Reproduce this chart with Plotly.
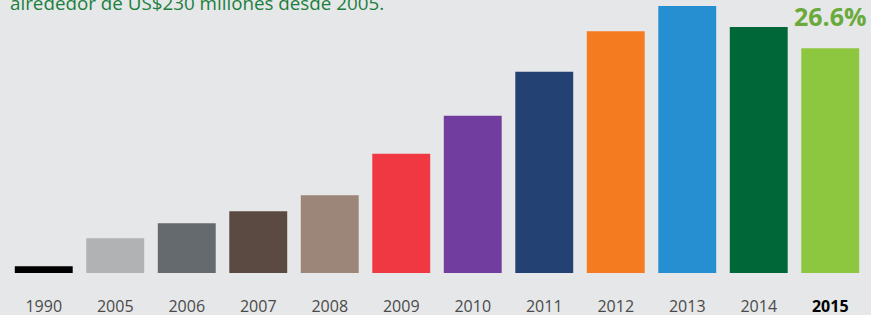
import plotly.graph_objects as go

years = ["1990", "2005", "2006", "2007", "2008", "2009", "2010", "2011", "2012", "2013", "2014", "2015"]
values = [0.8, 4.1, 5.9, 7.3, 9.2, 14.1, 18.6, 23.8, 28.6, 31.6, 29.1, 26.6]
colors = ["#000000", "#b1b2b4", "#646a6e", "#5a4a42", "#9c8579", "#ef3842",
          "#713ea0", "#244173", "#f47b20", "#268fd1", "#006838", "#8dc63f"]
tick_text = ["1990", "2005", "2006", "2007", "2008", "2009", "2010", "2011", "2012", "2013", "2014",
             "<b><span style='color:#000000'>2015</span></b>"]
title_text = "alrededor de US$230 millones desde 2005."
last_label = "26.6%"

fig = go.Figure(go.Bar(
    x=list(range(len(years))), y=values,
    marker=dict(color=colors, line=dict(width=0)),
    width=0.81, hoverinfo="skip",
))

fig.add_annotation(x=len(years) - 1, y=values[-1], xref="x", yref="y",
                   text="<b>" + last_label + "</b>", showarrow=False,
                   yanchor="bottom", yshift=13,
                   font=dict(family="Open Sans", size=25, color="#6aaa3a"))
fig.add_annotation(x=0, y=1, xref="paper", yref="paper", xanchor="left", yanchor="middle",
                   xshift=0, yshift=-2.5, text=title_text, showarrow=False,
                   font=dict(family="Open Sans", size=18.8, color="#1b7f3e"))

fig.update_layout(
    width=871, height=315,
    margin=dict(l=8, r=5, t=0, b=42, autoexpand=False),
    paper_bgcolor="#e6e7e8", plot_bgcolor="#e6e7e8",
    showlegend=False, bargap=0.19,
    xaxis=dict(tickmode="array", tickvals=list(range(len(years))), ticktext=tick_text,
               range=[-0.5, len(years) - 0.5], showgrid=False, zeroline=False, showline=False,
               ticks="outside", ticklen=19, tickcolor="rgba(0,0,0,0)", automargin=False,
               tickfont=dict(family="Open Sans", size=16, color="#4a4a4a")),
    yaxis=dict(range=[0, 32.3], visible=False),
)

fig.write_html("out.html", config={"displayModeBar": False},
               post_script="document.body.style.margin='0';document.body.style.overflow='hidden';")
